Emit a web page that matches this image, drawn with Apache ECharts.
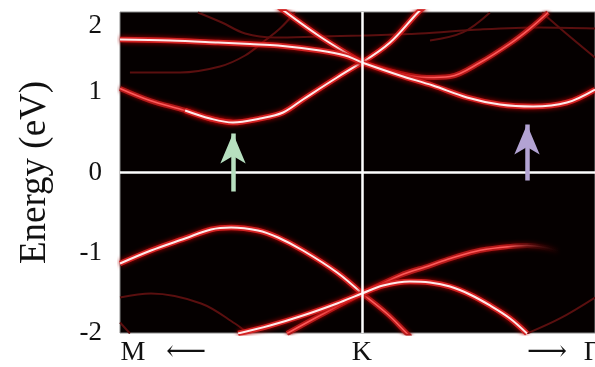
<!DOCTYPE html>
<html>
<head>
<meta charset="utf-8">
<script src="https://cdn.jsdelivr.net/npm/echarts@6/dist/echarts.min.js"></script>
<style>html,body{margin:0;padding:0;background:#fff;}#c{width:595px;height:367px;}</style>
</head>
<body>
<div id="c"></div>
<script>
// ---- data (x: path coordinate, K = 0; y: energy in eV) ----
const yTicks = [-2, -1, 0, 1, 2];
const xLabelPos = [-0.946, -0.727, 0, 0.765, 0.95];
const xLabelText = ['M', '⟵', 'K', '⟶', 'Γ'];

// bright bands
const bandA_x = [-1, -0.793, -0.595, -0.463, -0.347, -0.174, -0.070, 0];
const bandA_y = [1.657, 1.645, 1.620, 1.601, 1.583, 1.520, 1.458, 1.371];
const bandE_x = [0, 0.157, 0.293, 0.434, 0.570, 0.707, 0.847, 0.963];
const bandE_y = [1.371, 1.209, 1.084, 0.935, 0.847, 0.822, 0.872, 1.034];
const bandB_x = [-0.731, -0.628, -0.533, -0.421, -0.326, -0.244, -0.103, 0];
const bandB_y = [0.773, 0.673, 0.623, 0.673, 0.748, 0.910, 1.184, 1.371];
const bandC_x = [-0.347, -0.174, 0];
const bandC_y = [2.07, 1.695, 1.371];
const bandD_x = [0, 0.116, 0.231, 0.26];
const bandD_y = [1.371, 1.620, 1.994, 2.07];
const bandG_x = [-1, -0.872, -0.731, -0.624, -0.541, -0.430, -0.347, -0.244, -0.103, 0];
const bandG_y = [-1.134, -0.972, -0.822, -0.710, -0.685, -0.723, -0.810, -0.972, -1.246, -1.508];
const bandH_x = [-0.512, -0.380, -0.244, -0.103, 0, 0.087, 0.198, 0.281, 0.364, 0.446, 0.529, 0.612, 0.682];
const bandH_y = [-2.006, -1.907, -1.782, -1.632, -1.508, -1.408, -1.358, -1.371, -1.421, -1.520, -1.657, -1.819, -2.006];

// medium bands
const bandB0_x = [-1, -0.876, -0.731, -0.628, -0.533];
const bandB0_y = [1.047, 0.897, 0.773, 0.673, 0.623];
const bandF_x = [0, 0.157, 0.269, 0.364, 0.488, 0.612, 0.694, 0.769];
const bandF_y = [1.371, 1.234, 1.184, 1.196, 1.371, 1.607, 1.794, 1.994];
const bandG2_x = [0, 0.103, 0.186, 0.2];
const bandG2_y = [-1.508, -1.757, -2.006, -2.05];
const bandI_x = [-0.310, -0.174, 0, 0.157, 0.281, 0.364, 0.467, 0.570, 0.682, 0.756, 0.818];
const bandI_y = [-2.006, -1.782, -1.508, -1.283, -1.159, -1.072, -0.984, -0.935, -0.910, -0.935, -0.984];

// dim bands
const bandJ_x = [-1, -0.872, -0.665, -0.525, -0.471];
const bandJ_y = [-1.558, -1.508, -1.632, -1.882, -2.006];
const bandL_x = [-1, -0.959];
const bandL_y = [-1.869, -2.006];
const bandR_x = [0.682, 0.818, 0.963];
const bandR_y = [-2.006, -1.819, -1.558];
const bandT1_x = [0.744, 0.839, 0.963];
const bandT1_y = [1.994, 1.745, 1.433];
const bandT2_x = [0.281, 0.417, 0.529];
const bandT2_y = [1.645, 1.745, 1.994];
const bandT3_x = [-0.959, -0.752, -0.587, -0.483, -0.401, -0.339, -0.277];
const bandT3_y = [1.246, 1.246, 1.321, 1.458, 1.645, 1.794, 1.994];
const bandT4_x = [-0.678, -0.579, -0.483, -0.360, -0.174, 0, 0.240, 0.488, 0.736, 0.963];
const bandT4_y = [1.994, 1.869, 1.732, 1.682, 1.695, 1.707, 1.732, 1.782, 1.807, 1.794];

// arrows (x, tail y, tip y)
const arrowGreen = [-0.533, -0.237, 0.486];
const arrowPurple = [0.682, -0.10, 0.598];

const zip = (xs, ys) => xs.map((x, i) => [x, ys[i]]);

function fade(c) {
  return {type: 'linear', x: 0, y: 0, x2: 1, y2: 0,
    colorStops: [{offset: 0, color: c}, {offset: 0.8, color: c}, {offset: 1, color: 'rgba(0,0,0,0)'}]};
}

const series = [];
function band(xs, ys, level, fadeEnd) {
  const d = zip(xs, ys);
  const base = {type: 'line', data: d, symbol: 'none', smooth: 0.35, silent: true, clip: true};
  const col = c => fadeEnd ? fade(c) : c;
  if (level === 'dim') {
    series.push(Object.assign({}, base, {lineStyle: {color: col('#5a0f0f'), width: 2}}));
  } else if (level === 'mid') {
    series.push(Object.assign({}, base, {lineStyle: {color: col('#b51a1a'), width: 5, shadowBlur: 4, shadowColor: '#900000'}}));
    series.push(Object.assign({}, base, {lineStyle: {color: col('#ff5a5a'), width: 1.6}}));
  } else {
    series.push(Object.assign({}, base, {lineStyle: {color: '#d42222', width: 5.5, shadowBlur: 5, shadowColor: '#b00000'}}));
    series.push(Object.assign({}, base, {lineStyle: {color: '#ffeaea', width: 2}}));
  }
}
band(bandJ_x, bandJ_y, 'dim');
band(bandL_x, bandL_y, 'dim');
band(bandR_x, bandR_y, 'dim');
band(bandT1_x, bandT1_y, 'dim');
band(bandT2_x, bandT2_y, 'dim');
band(bandT3_x, bandT3_y, 'dim');
band(bandT4_x, bandT4_y, 'dim');
band(bandB0_x, bandB0_y, 'mid');
band(bandF_x, bandF_y, 'mid');
band(bandG2_x, bandG2_y, 'mid');
band(bandI_x, bandI_y, 'mid', true);
band(bandB_x, bandB_y, 'bright');
band(bandC_x, bandC_y, 'bright');
band(bandD_x, bandD_y, 'bright');
band(bandA_x, bandA_y, 'bright');
band(bandE_x, bandE_y, 'bright');
band(bandG_x, bandG_y, 'bright');
band(bandH_x, bandH_y, 'bright');

// white reference lines at E = 0 and at K
series.push({
  type: 'line', data: [], silent: true,
  markLine: {
    silent: true, symbol: ['none', 'none'], animation: false,
    label: {show: false},
    lineStyle: {color: '#ffffff', width: 2.5, type: 'solid'},
    data: [{yAxis: 0}, {xAxis: 0}]
  }
});
function arrow(a, color) {
  series.push({
    type: 'line', data: [], silent: true,
    markLine: {
      silent: true, animation: false, symbol: ['none', 'arrow'], symbolSize: 30,
      label: {show: false},
      lineStyle: {color: color, width: 4.5, type: 'solid', opacity: 1},
      itemStyle: {color: color},
      data: [[{coord: [a[0], a[1]]}, {coord: [a[0], a[2]], symbolSize: [19, 30]}]]
    }
  });
}
arrow(arrowGreen, '#b7dfbf');
arrow(arrowPurple, '#b3a3d3');

const chart = echarts.init(document.getElementById('c'), null, {renderer: 'canvas'});
chart.setOption({
  animation: false,
  backgroundColor: '#ffffff',
  grid: {left: 120, right: 0, top: 12, bottom: 34, show: true, outerBoundsMode: 'none', containLabel: false,
    backgroundColor: '#050000', borderColor: '#8a8a8a', borderWidth: 1},
  xAxis: {
    type: 'value', min: -1, max: 0.963,
    axisLine: {show: false}, axisTick: {show: false}, splitLine: {show: false},
    axisLabel: {
      customValues: xLabelPos, showMaxLabel: true, showMinLabel: true, hideOverlap: false,
      formatter: v => { const i = xLabelPos.indexOf(v); return i >= 0 ? xLabelText[i] : ''; },
      fontFamily: 'Liberation Serif, DejaVu Serif, serif', fontSize: 28, color: '#111', margin: 6
    }
  },
  yAxis: {
    type: 'value', min: -2, max: 2, interval: 1,
    name: 'Energy (eV)', nameLocation: 'middle', nameRotate: 90, nameGap: 66,
    nameTextStyle: {fontFamily: 'Liberation Serif, serif', fontSize: 37, color: '#111'},
    axisLine: {show: false}, axisTick: {show: false}, splitLine: {show: false},
    axisLabel: {
      customValues: yTicks,
      fontFamily: 'Liberation Serif, serif', fontSize: 27, color: '#111', margin: 18,
      verticalAlignMaxLabel: 'top'
    }
  },
  series: series
});
</script>
</body>
</html>
